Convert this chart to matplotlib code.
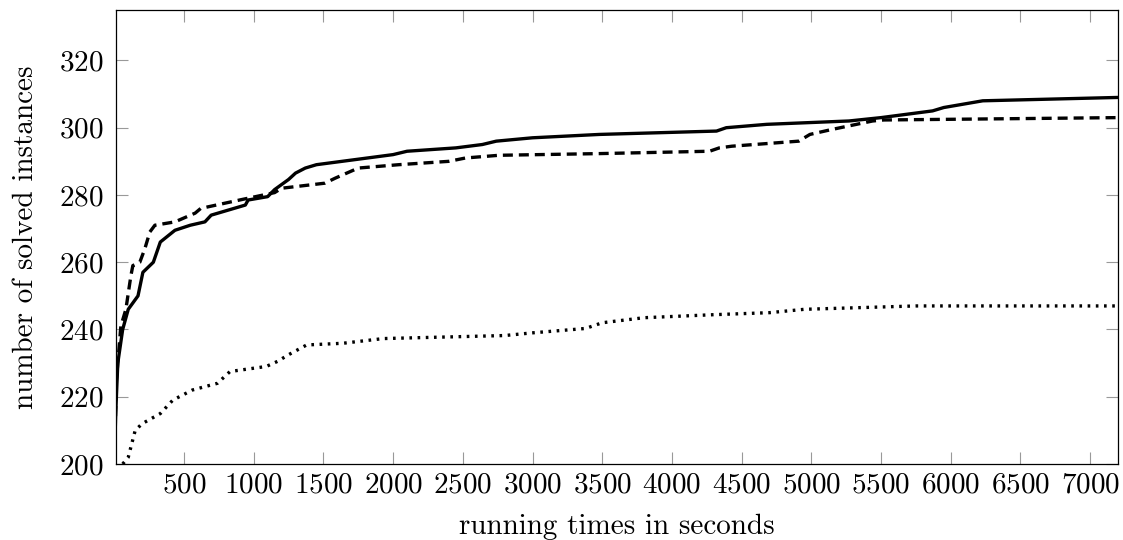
import matplotlib
matplotlib.use('Agg')
import matplotlib.pyplot as plt

plt.rcParams['font.family'] = 'serif'
plt.rcParams['font.serif'] = ['cmr10', 'DejaVu Serif']
plt.rcParams['axes.formatter.use_mathtext'] = True
plt.rcParams['lines.scale_dashes'] = False

# solved instances over time (three solver configurations)
solid_t = [0, 10, 25, 60, 100, 170, 205, 280, 330, 435, 545, 650, 695, 940, 960,
           1100, 1150, 1250, 1300, 1370, 1450, 2000, 2100, 2450, 2640, 2740, 3000,
           3480, 4320, 4390, 4680, 5270, 5500, 5870, 5950, 6230, 7200]
solid_n = [200, 215, 230, 240, 246, 250, 257, 260, 266, 269.5, 271, 272, 274, 277, 278.5,
           279.5, 281.6, 284.6, 286.5, 288, 289, 292, 293, 294, 295, 296, 297,
           298, 299, 300, 301, 302, 303, 305, 306, 308, 309]

dashed_t = [0, 15, 47, 83, 119, 133, 183, 219, 255, 291, 435, 580, 620, 910, 1150,
            1200, 1510, 1585, 1750, 2040, 2400, 2520, 2760, 3480, 4270, 4340, 4430,
            4910, 4990, 5150, 5440, 5520, 7200]
dashed_n = [200, 225, 241, 246, 256, 259, 260, 264, 269, 271, 272, 274.6, 276, 278.6, 280.7,
            282, 283.5, 285, 288, 289, 290, 291, 291.8, 292.3, 293, 294, 294.5,
            296, 298, 299.5, 302, 302.3, 303]

dotted_t = [60, 100, 150, 200, 330, 420, 560, 740, 830, 1090, 1170, 1250, 1380, 1640,
            1930, 2800, 3000, 3380, 3500, 3800, 4300, 4700, 4950, 5750, 7200]
dotted_n = [200, 202, 210, 212, 215, 219, 222, 224, 227.5, 229, 230.5, 232.5, 235.4, 235.9,
            237.3, 238.2, 239, 240.3, 242, 243.5, 244.4, 245, 246, 247, 247]

x_ticks = list(range(500, 7001, 500))
y_ticks = list(range(200, 321, 20))

FS = 21

fig = plt.figure(figsize=(11.23, 5.40), dpi=100)
ax = fig.add_axes([115.7 / 1123, (540 - 464) / 540, (1118 - 115.7) / 1123, (464 - 10) / 540])

ax.plot(solid_t, solid_n, color='black', lw=2.4, solid_joinstyle='round')
ax.plot(dashed_t, dashed_n, color='black', lw=2.4, linestyle=(0, (7.2, 4.3)))
ax.plot(dotted_t, dotted_n, color='black', lw=2.4, linestyle=(0, (1.9, 4.0)))

ax.set_xlim(10, 7200)
ax.set_ylim(200, 335)
ax.set_xticks(x_ticks)
ax.set_yticks(y_ticks)
ax.tick_params(axis='both', which='both', direction='in', length=8.4, width=0.8,
               color='#999999', labelsize=FS, top=True, right=True)
ax.tick_params(axis='x', pad=6)
ax.tick_params(axis='y', pad=9)
for sp in ax.spines.values():
    sp.set_linewidth(0.9)
    sp.set_color('black')

ax.set_xlabel('running times in seconds', fontsize=FS, labelpad=11)
ax.set_ylabel('number of solved instances', fontsize=FS, labelpad=14)

fig.savefig('out.png', dpi=100)
